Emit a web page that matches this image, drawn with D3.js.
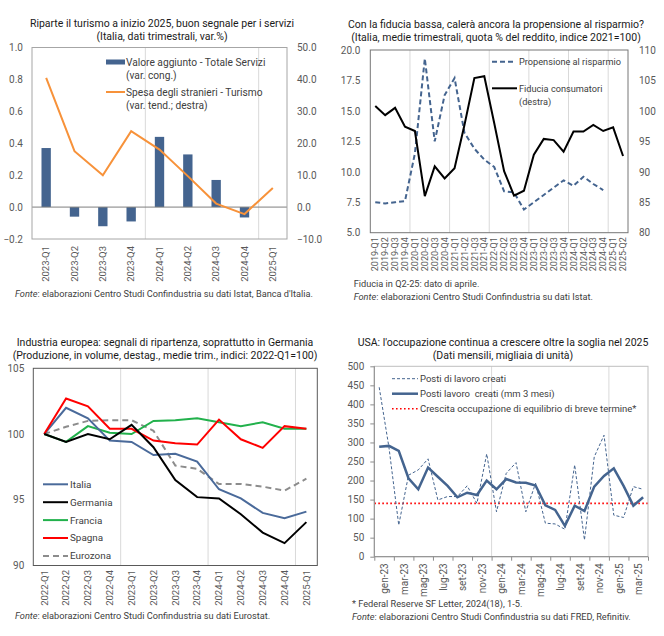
<!DOCTYPE html>
<html>
<head>
<meta charset="utf-8">
<script src="https://cdn.jsdelivr.net/npm/d3@7"></script>
<style>
  body { margin: 0; background: #fff; }
  text { font-family: Roboto, "Noto Sans", sans-serif; }
</style>
</head>
<body>
<script>
// ---- pannello 1: turismo e servizi
const turQuarters = ["2023-Q1","2023-Q2","2023-Q3","2023-Q4","2024-Q1","2024-Q2","2024-Q3","2024-Q4","2025-Q1"];
const vaServizi = [0.37, -0.06, -0.12, -0.09, 0.44, 0.33, 0.17, -0.065, null];
const spesaStranieri = [40.5, 17.5, 10.0, 23.8, 18.0, 9.7, 1.1, -2.2, 6.0];
const ticks1L = [-0.2, 0, 0.2, 0.4, 0.6, 0.8, 1.0];
const ticks1R = [-10, 0, 10, 20, 30, 40, 50];

// ---- pannello 2: fiducia e risparmio
const quarters19 = ["2019-Q1","2019-Q2","2019-Q3","2019-Q4","2020-Q1","2020-Q2","2020-Q3","2020-Q4",
  "2021-Q1","2021-Q2","2021-Q3","2021-Q4","2022-Q1","2022-Q2","2022-Q3","2022-Q4",
  "2023-Q1","2023-Q2","2023-Q3","2023-Q4","2024-Q1","2024-Q2","2024-Q3","2024-Q4","2025-Q1","2025-Q2"];
const propensione = [7.5, 7.4, 7.5, 7.6, 11.5, 19.3, 12.5, 16.3, 17.7, 13.2, 11.9, 11.0, 10.4, 8.4, 8.3, 6.9,
  7.5, 8.1, 8.7, 9.3, 8.85, 9.6, 9.0, 8.5, null, null];
const fiducia = [100.8, 99.3, 100.5, 97.4, 96.7, 86.0, 90.9, 88.9, 90.6, 97.7, 105.4, 105.7, 98.0, 90.1, 86.1, 86.9,
  92.8, 95.4, 95.2, 93.3, 96.6, 96.6, 97.7, 96.7, 97.3, 92.6];
const ticks2L = [5, 7.5, 10, 12.5, 15, 17.5, 20];
const ticks2R = [80, 85, 90, 95, 100, 105, 110];

// ---- pannello 3: industria europea
const quarters22 = ["2022-Q1","2022-Q2","2022-Q3","2022-Q4","2023-Q1","2023-Q2","2023-Q3","2023-Q4",
  "2024-Q1","2024-Q2","2024-Q3","2024-Q4","2025-Q1"];
const italia   = [100, 102.0, 101.2, 99.5, 99.4, 98.4, 98.5, 97.9, 95.8, 95.1, 94.0, 93.6, 94.1];
const germania = [100, 99.4, 100.0, 99.6, 100.7, 99.0, 96.5, 95.2, 95.1, 93.9, 92.5, 91.7, 93.3];
const francia  = [100, 99.4, 100.6, 100.1, 100.0, 101.0, 101.05, 101.2, 100.9, 100.6, 100.9, 100.4, 100.4];
const spagna   = [100, 102.7, 102.1, 100.4, 100.4, 99.5, 99.3, 99.2, 101.1, 99.6, 98.95, 100.6, 100.4];
const eurozona = [100, 100.55, 101.0, 101.05, 101.05, 100.25, 97.6, 97.35, 96.2, 96.2, 96.0, 95.7, 96.6];
const ticks3 = [90, 95, 100, 105];

// ---- pannello 4: occupazione USA
const months = ["gen-23","feb-23","mar-23","apr-23","mag-23","giu-23","lug-23","ago-23","set-23","ott-23","nov-23","dic-23",
  "gen-24","feb-24","mar-24","apr-24","mag-24","giu-24","lug-24","ago-24","set-24","ott-24","nov-24","dic-24",
  "gen-25","feb-25","mar-25","apr-25"];
const postiCreati = [445, 287, 83, 214, 228, 257, 149, 158, 158, 186, 140, 270,
  118, 219, 247, 118, 193, 88, 86, 72, 241, 44, 262, 319, 109, 103, 184, 177];
const postiMM3 = [289, 291, 278, 206, 177, 234, 210, 186, 156, 168, 162, 200,
  177, 204, 195, 194, 187, 135, 123, 81, 134, 120, 184, 212, 232, 186, 134, 156];
const soglia = 140;
const ticks4 = d3.range(0, 501, 50);

const svg = d3.select("body").append("svg")
  .attr("width", 664).attr("height", 636);

const txt = "#404040";

function titles(cx, y, t1, t2) {
  svg.append("text").attr("x", cx).attr("y", y).attr("text-anchor", "middle")
    .attr("font-size", 10.5).attr("fill", "#1a1a1a").text(t1);
  svg.append("text").attr("x", cx).attr("y", y + 13).attr("text-anchor", "middle")
    .attr("font-size", 10.5).attr("fill", "#1a1a1a").text(t2);
}

function note(x, y, italic, rest) {
  const t = svg.append("text").attr("x", x).attr("y", y).attr("font-size", 9.2).attr("fill", txt);
  if (italic) t.append("tspan").attr("font-style", "italic").text(italic);
  t.append("tspan").text(rest);
}

function styleAxis(g, size) {
  g.select(".domain").remove();
  g.selectAll("text").attr("font-size", size).attr("fill", "#595959")
    .style("font-family", "Roboto, sans-serif");
}

function rotate(g, off) {
  g.selectAll("text")
    .attr("transform", "rotate(-90)")
    .attr("x", -off).attr("y", 0).attr("dy", "0.35em")
    .style("text-anchor", "end");
}

function frame(x0, x1, y0, y1, col) {
  svg.append("rect").attr("x", x0).attr("y", y0)
    .attr("width", x1 - x0).attr("height", y1 - y0)
    .attr("fill", "none").attr("stroke", col).attr("stroke-width", 1);
}

function vgrid(x, y0, y1) {
  svg.append("line").attr("x1", x).attr("x2", x).attr("y1", y0).attr("y2", y1)
    .attr("stroke", "#d9d9d9").attr("stroke-width", 1);
}

// =============== PANNELLO 1 ===============
titles(162, 27, "Riparte il turismo a inizio 2025, buon segnale per i servizi", "(Italia, dati trimestrali, var.%)");

const x1 = d3.scaleBand().domain(turQuarters).range([32, 287]);
const y1L = d3.scaleLinear().domain([-0.2, 1.0]).range([239, 47.5]);
const y1R = d3.scaleLinear().domain([-10, 50]).range([239, 47.5]);

vgrid(x1("2024-Q1"), 47.5, 239);
vgrid(x1("2025-Q1"), 47.5, 239);

svg.append("g").selectAll("rect")
  .data(turQuarters.map((q, i) => ({ q, v: vaServizi[i] })).filter(d => d.v !== null))
  .join("rect")
    .attr("x", d => x1(d.q) + x1.bandwidth() * 0.335)
    .attr("width", x1.bandwidth() * 0.33)
    .attr("y", d => y1L(Math.max(0, d.v)))
    .attr("height", d => Math.abs(y1L(d.v) - y1L(0)))
    .attr("fill", "#44648f");

svg.append("line").attr("x1", 32).attr("x2", 287).attr("y1", y1L(0)).attr("y2", y1L(0))
  .attr("stroke", "#7f7f7f");

svg.append("path")
  .datum(spesaStranieri)
  .attr("fill", "none").attr("stroke", "#f7923a").attr("stroke-width", 2)
  .attr("d", d3.line().x((d, i) => x1(turQuarters[i]) + x1.bandwidth() / 2).y(d => y1R(d)));

frame(32, 287, 47.5, 239, "#a6a6a6");

svg.append("g").attr("transform", "translate(32,0)")
  .call(d3.axisLeft(y1L).tickValues(ticks1L).tickFormat(d3.format(".1f")).tickSize(0).tickPadding(9))
  .call(g => styleAxis(g, 10));
svg.append("g").attr("transform", "translate(287,0)")
  .call(d3.axisRight(y1R).tickValues(ticks1R).tickFormat(d3.format(".1f")).tickSize(0).tickPadding(10))
  .call(g => styleAxis(g, 10));
svg.append("g").attr("transform", "translate(0,239)")
  .call(d3.axisBottom(x1).tickSize(0))
  .call(g => styleAxis(g, 9.5))
  .call(g => rotate(g, 7));

// legenda 1
svg.append("rect").attr("x", 106).attr("y", 59.5).attr("width", 19).attr("height", 5).attr("fill", "#44648f");
svg.append("line").attr("x1", 106).attr("x2", 125).attr("y1", 92).attr("y2", 92)
  .attr("stroke", "#f7923a").attr("stroke-width", 2);
[["Valore aggiunto - Totale Servizi", 62], ["(var. cong.)", 75.7],
 ["Spesa degli stranieri - Turismo", 92], ["(var. tend.; destra)", 105.5]].forEach(([t, y]) => {
  svg.append("text").attr("x", 126).attr("y", y).attr("dy", "0.35em")
    .attr("font-size", 10.2).attr("fill", txt).text(t);
});

note(15, 297, "Fonte", ": elaborazioni Centro Studi Confindustria su dati Istat, Banca d'Italia.");

// =============== PANNELLO 2 ===============
titles(496, 27.5, "Con la fiducia bassa, calerà ancora la propensione al risparmio?",
  "(Italia, medie trimestrali, quota % del reddito, indice 2021=100)");

const x2 = d3.scaleBand().domain(quarters19).range([370.3, 628]);
const y2L = d3.scaleLinear().domain([5, 20]).range([232.7, 50]);
const y2R = d3.scaleLinear().domain([80, 110]).range([232.7, 50]);

quarters19.filter(q => q.endsWith("Q1") && q !== "2019-Q1").forEach(q => vgrid(x2(q), 50, 232.7));

svg.append("path")
  .datum(propensione)
  .attr("fill", "none").attr("stroke", "#44648f").attr("stroke-width", 2).attr("stroke-dasharray", "5,3")
  .attr("d", d3.line().defined(d => d !== null)
    .x((d, i) => x2(quarters19[i]) + x2.bandwidth() / 2).y(d => y2L(d)));

svg.append("path")
  .datum(fiducia)
  .attr("fill", "none").attr("stroke", "#000").attr("stroke-width", 2)
  .attr("d", d3.line().x((d, i) => x2(quarters19[i]) + x2.bandwidth() / 2).y(d => y2R(d)));

frame(370.3, 628, 50, 232.7, "#767676");

svg.append("g").attr("transform", "translate(370.3,0)")
  .call(d3.axisLeft(y2L).tickValues(ticks2L).tickFormat(d3.format(".1f")).tickSize(0).tickPadding(10))
  .call(g => styleAxis(g, 10));
svg.append("g").attr("transform", "translate(628,0)")
  .call(d3.axisRight(y2R).tickValues(ticks2R).tickSize(0).tickPadding(11))
  .call(g => styleAxis(g, 10));
svg.append("g").attr("transform", "translate(0,232.7)")
  .call(d3.axisBottom(x2).tickSize(0))
  .call(g => styleAxis(g, 9))
  .call(g => rotate(g, 4.5));

// legenda 2
svg.append("line").attr("x1", 492).attr("x2", 515).attr("y1", 61.7).attr("y2", 61.7)
  .attr("stroke", "#44648f").attr("stroke-width", 2).attr("stroke-dasharray", "5,3");
svg.append("line").attr("x1", 492).attr("x2", 517).attr("y1", 88.3).attr("y2", 88.3)
  .attr("stroke", "#000").attr("stroke-width", 2);
[["Propensione al risparmio", 61.7], ["Fiducia consumatori", 88.3], ["(destra)", 101.5]].forEach(([t, y]) => {
  svg.append("text").attr("x", 519).attr("y", y).attr("dy", "0.35em")
    .attr("font-size", 9.2).attr("fill", txt).text(t);
});

note(353.7, 287, null, "Fiducia in Q2-25: dato di aprile.");
note(353.7, 299.5, "Fonte", ": elaborazioni Centro Studi Confindustria su dati Istat.");

// =============== PANNELLO 3 ===============
titles(165, 345.5, "Industria europea: segnali di ripartenza, soprattutto in Germania",
  "(Produzione, in volume, destag., medie trim., indici: 2022-Q1=100)");

const x3 = d3.scaleBand().domain(quarters22).range([33.3, 317.3]);
const y3 = d3.scaleLinear().domain([90, 105]).range([565.5, 368.3]);

["2023-Q1", "2024-Q1", "2025-Q1"].forEach(q => vgrid(x3(q), 368.3, 565.5));

const series3 = [
  { name: "Italia", values: italia, color: "#4a6a9a", dash: null },
  { name: "Germania", values: germania, color: "#000000", dash: null },
  { name: "Francia", values: francia, color: "#22b14c", dash: null },
  { name: "Spagna", values: spagna, color: "#ff0000", dash: null },
  { name: "Eurozona", values: eurozona, color: "#8c8c8c", dash: "6,4" }
];
const line3 = d3.line().x((d, i) => x3(quarters22[i]) + x3.bandwidth() / 2).y(d => y3(d));
// ordine di disegno: eurozona sotto
[4, 2, 0, 3, 1].forEach(k => {
  const s = series3[k];
  svg.append("path").datum(s.values)
    .attr("fill", "none").attr("stroke", s.color).attr("stroke-width", 2)
    .attr("stroke-dasharray", s.dash)
    .attr("d", line3);
});

frame(33.3, 317.3, 368.3, 565.5, "#595959");

svg.append("g").attr("transform", "translate(33.3,0)")
  .call(d3.axisLeft(y3).tickValues(ticks3).tickSize(0).tickPadding(9))
  .call(g => styleAxis(g, 10));
svg.append("g").attr("transform", "translate(0,565.5)")
  .call(d3.axisBottom(x3).tickSize(0))
  .call(g => styleAxis(g, 9.5))
  .call(g => rotate(g, 4.5));

series3.forEach((s, i) => {
  const y = 484.3 + i * 17.9;
  svg.append("line").attr("x1", 43).attr("x2", 68).attr("y1", y).attr("y2", y)
    .attr("stroke", s.color).attr("stroke-width", 2).attr("stroke-dasharray", s.dash);
  svg.append("text").attr("x", 70).attr("y", y).attr("dy", "0.35em")
    .attr("font-size", 9.9).attr("fill", txt).text(s.name);
});

note(15, 619, "Fonte", ": elaborazioni Centro Studi Confindustria su dati Eurostat.");

// =============== PANNELLO 4 ===============
titles(503, 346, "USA: l'occupazione continua a crescere oltre la soglia nel 2025",
  "(Dati mensili, migliaia di unità)");

const x4 = d3.scaleLinear().domain([0, months.length]).range([374.3, 648]);
const y4 = d3.scaleLinear().domain([0, 500]).range([556.7, 366.3]);

vgrid(x4(12), 366.3, 556.7);
vgrid(x4(24), 366.3, 556.7);

svg.append("line").attr("x1", 374.3).attr("x2", 648).attr("y1", y4(soglia)).attr("y2", y4(soglia))
  .attr("stroke", "#ff0000").attr("stroke-width", 1.6).attr("stroke-dasharray", "1.6,2.4");

svg.append("path").datum(postiCreati)
  .attr("fill", "none").attr("stroke", "#44648f").attr("stroke-width", 1).attr("stroke-dasharray", "3,2")
  .attr("d", d3.line().x((d, i) => x4(i + 0.5)).y(d => y4(d)));

svg.append("path").datum(postiMM3)
  .attr("fill", "none").attr("stroke", "#44648f").attr("stroke-width", 2.5)
  .attr("d", d3.line().x((d, i) => x4(i + 0.5)).y(d => y4(d)));

frame(374.3, 648, 366.3, 556.7, "#bfbfbf");
svg.append("path").attr("d", "M374.3,366.3V556.7H648").attr("fill", "none").attr("stroke", "#8c8c8c");

svg.append("g").attr("transform", "translate(374.3,0)")
  .call(d3.axisLeft(y4).tickValues(ticks4).tickSize(4).tickPadding(6))
  .call(g => styleAxis(g, 10))
  .call(g => g.selectAll("line").attr("stroke", "#8c8c8c"));
svg.append("g").attr("transform", "translate(0,556.7)")
  .call(d3.axisBottom(x4).tickValues(d3.range(0, months.length + 1, 2)).tickFormat("").tickSize(4))
  .call(g => styleAxis(g, 10))
  .call(g => g.selectAll("line").attr("stroke", "#8c8c8c"));
svg.append("g").attr("transform", "translate(0,556.7)")
  .call(d3.axisBottom(x4).tickValues(d3.range(1, months.length, 2)).tickFormat(d => months[d - 1]).tickSize(0))
  .call(g => styleAxis(g, 10))
  .call(g => rotate(g, 6.6));

const leg4 = [
  { t: "Posti di lavoro creati", w: 1, dash: "3,2", c: "#44648f" },
  { t: "Posti lavoro  creati (mm 3 mesi)", w: 2.5, dash: null, c: "#44648f" },
  { t: "Crescita occupazione di equilibrio di breve termine*", w: 1.6, dash: "1.6,2.4", c: "#ff0000" }
];
leg4.forEach((d, i) => {
  const y = 378.7 + i * 15;
  svg.append("line").attr("x1", 392).attr("x2", 418).attr("y1", y).attr("y2", y)
    .attr("stroke", d.c).attr("stroke-width", d.w).attr("stroke-dasharray", d.dash);
  svg.append("text").attr("x", 420).attr("y", y).attr("dy", "0.35em")
    .attr("font-size", 9.5).attr("fill", txt).style("white-space", "pre").text(d.t);
});

note(352, 607, null, "* Federal Reserve SF Letter, 2024(18), 1-5.");
note(352, 619.5, "Fonte", ": elaborazioni Centro Studi Confindustria su dati FRED, Refinitiv.");
</script>
</body>
</html>
